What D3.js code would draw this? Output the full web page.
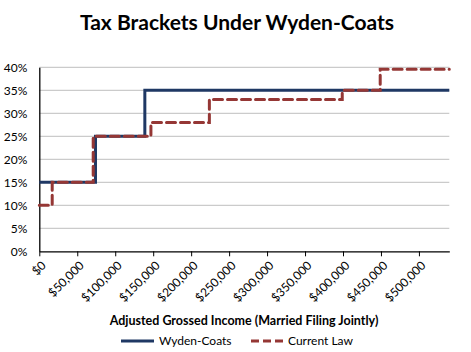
<!DOCTYPE html>
<html>
<head>
<meta charset="utf-8">
<script src="https://cdn.jsdelivr.net/npm/d3@7"></script>
<style>
  body { margin: 0; background: #fff; }
  text { font-family: Lato, "Open Sans", sans-serif; fill: #000; }
</style>
</head>
<body>
<svg id="chart" width="471" height="352"></svg>
<script>
// data: bracket start incomes and rates (%)
var wydenBreaks = [0, 74000, 139000, 540000];
var wydenRates = [15, 25, 35];

var currentBreaks = [0, 17000, 71000, 147000, 224000, 399000, 449000, 540000];
var currentRates = [10, 15, 25, 28, 33, 35, 39.6];

var xTicks = [0, 50000, 100000, 150000, 200000, 250000, 300000, 350000, 400000, 450000, 500000];
var yTicks = [0, 5, 10, 15, 20, 25, 30, 35, 40];

var svg = d3.select("#chart");

var xScale = d3.scaleLinear()
    .domain([0, 540000])
    .range([39.3, 449.3]);

var yScale = d3.scaleLinear()
    .domain([0, 40])
    .range([251.3, 67.3]);

// title
svg.append("text")
    .attr("x", 237)
    .attr("y", 30)
    .attr("text-anchor", "middle")
    .style("font-size", "21px")
    .style("font-weight", "bold")
    .text("Tax Brackets Under Wyden-Coats");

// gridlines
svg.append("g")
    .selectAll("line")
    .data(yTicks.slice(1))
    .enter()
    .append("line")
    .attr("x1", xScale(0))
    .attr("x2", xScale(540000))
    .attr("y1", (d) => yScale(d))
    .attr("y2", (d) => yScale(d))
    .attr("stroke", "#bfbfbf")
    .attr("stroke-width", 1);

// y axis
var yAxis = d3.axisLeft(yScale)
    .tickValues(yTicks)
    .tickSize(0)
    .tickPadding(12)
    .tickFormat((d) => d + "%");

var gy = svg.append("g")
    .attr("transform", "translate(" + xScale(0) + ",0)")
    .call(yAxis);
gy.select(".domain").attr("stroke", "#000").attr("stroke-width", 1.3);
gy.selectAll("text").style("font-size", "12px").style("font-family", "Lato, sans-serif");

// x axis
var xAxis = d3.axisBottom(xScale)
    .tickValues(xTicks)
    .tickSize(5)
    .tickSizeOuter(0)
    .tickFormat((d) => "$" + d3.format(",")(d));

var gx = svg.append("g")
    .attr("transform", "translate(0," + yScale(0) + ")")
    .call(xAxis);
gx.select(".domain").attr("stroke", "#000").attr("stroke-width", 1.3);
gx.selectAll(".tick line").attr("stroke", "#000");
gx.selectAll("text")
    .style("font-size", "12px")
    .style("font-family", "Lato, sans-serif")
    .attr("text-anchor", "end")
    .attr("dy", "0.35em")
    .attr("transform", "translate(4,12) rotate(-45)")
    .attr("y", 0)
    .attr("x", 0);

// axis title
svg.append("text")
    .attr("x", 244)
    .attr("y", 325)
    .attr("text-anchor", "middle")
    .style("font-size", "12.5px")
    .style("font-weight", "bold")
    .text("Adjusted Grossed Income (Married Filing Jointly)");

// step lines
function stepPoints(breaks, rates) {
    var pts = [];
    for (var i = 0; i < rates.length; i++) {
        pts.push([breaks[i], rates[i]]);
    }
    pts.push([breaks[breaks.length - 1], rates[rates.length - 1]]);
    return pts;
}

var line = d3.line()
    .x((d) => xScale(d[0]))
    .y((d) => yScale(d[1]))
    .curve(d3.curveStepAfter);

svg.append("path")
    .datum(stepPoints(wydenBreaks, wydenRates))
    .attr("d", line)
    .attr("fill", "none")
    .attr("stroke", "#1f3864")
    .attr("stroke-width", 3);

svg.append("path")
    .datum(stepPoints(currentBreaks, currentRates))
    .attr("d", line)
    .attr("fill", "none")
    .attr("stroke", "#953735")
    .attr("stroke-width", 3)
    .attr("stroke-dasharray", "9,5")
    .attr("stroke-linecap", "round");

// legend
var legend = svg.append("g").attr("transform", "translate(0,341)");
legend.append("line")
    .attr("x1", 121).attr("x2", 154)
    .attr("stroke", "#1f3864").attr("stroke-width", 3);
legend.append("text")
    .attr("x", 159).attr("dy", "0.35em")
    .style("font-size", "12px")
    .text("Wyden-Coats");
legend.append("line")
    .attr("x1", 251).attr("x2", 283)
    .attr("stroke", "#953735").attr("stroke-width", 3)
    .attr("stroke-dasharray", "8,4");
legend.append("text")
    .attr("x", 288).attr("dy", "0.35em")
    .style("font-size", "12px")
    .text("Current Law");
</script>
</body>
</html>
